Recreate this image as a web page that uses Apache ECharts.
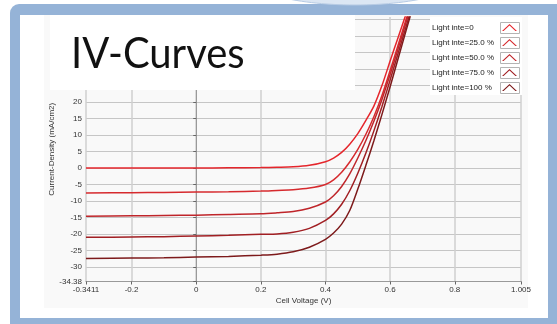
<!DOCTYPE html>
<html lang="en">
<head>
    <meta charset="UTF-8">
    <title>IV-Curves</title>
    <style type="text/css">
        * {
            margin: 0;
            padding: 0;
        }

        html, body {
            width: 100%;
            height: 100%;
            background: #fff;
        }

        #main {
            width: 557px;
            height: 324px;
        }
    </style>
</head>
<body>
<div id="main"></div>
<script src="https://cdn.jsdelivr.net/npm/echarts@6/dist/echarts.min.js"></script>
<script>

    var myChart = echarts.init(document.getElementById('main'));

    const seriesNames = ['Light inte=0', 'Light inte=25.0 %', 'Light inte=50.0 %', 'Light inte=75.0 %', 'Light inte=100 %'];
    const colorList = ['#e5262c', '#d62a2e', '#bf252a', '#a11f23', '#7d1a1b'];

    // cell voltage (V)
    const voltage = [-0.3411, -0.2, -0.1, 0, 0.1, 0.2, 0.25, 0.3, 0.35, 0.4, 0.425, 0.45, 0.475, 0.5, 0.525, 0.55, 0.575, 0.6, 0.625, 0.65, 0.675];

    // current density (mA/cm2), one list per light intensity
    const light0 = [0, 0, 0, 0, 0.05, 0.1, 0.2, 0.35, 0.8, 1.9, 3.0, 4.7, 7.2, 10.4, 14.4, 18.8, 25.0, 32.4, 39.6, 46.8, 54.0];
    const light25 = [-7.6, -7.5, -7.4, -7.3, -7.2, -7.0, -6.8, -6.6, -6.1, -5.0, -3.6, -1.3, 1.8, 5.6, 10.2, 15.6, 22.0, 29.5, 37.3, 45.2, 53.2];
    const light50 = [-14.6, -14.5, -14.4, -14.3, -14.1, -13.9, -13.6, -13.2, -12.2, -10.3, -8.4, -5.6, -1.8, 3.0, 8.3, 14.2, 20.8, 28.3, 36.2, 44.3, 52.5];
    const light75 = [-21.0, -20.9, -20.8, -20.6, -20.4, -20.1, -20.0, -19.5, -18.3, -15.9, -13.9, -11.0, -6.9, -1.6, 4.5, 11.3, 18.7, 26.6, 34.8, 43.0, 51.3];
    const light100 = [-27.4, -27.3, -27.2, -27.0, -26.8, -26.4, -26.1, -25.4, -24.0, -21.6, -19.7, -17.0, -12.9, -6.4, 0.8, 8.3, 16.3, 24.6, 33.2, 41.8, 50.3];

    const xTicks = [-0.3411, -0.2, 0, 0.2, 0.4, 0.6, 0.8, 1.005];
    const yTicks = [-34.38, -30, -25, -20, -15, -10, -5, 0, 5, 10, 15, 20, 25, 30, 35, 40, 45];
    const yLabels = [-34.38, -30, -25, -20, -15, -10, -5, 0, 5, 10, 15, 20];

    const curves = [light0, light25, light50, light75, light100];

    var series = curves.map(function (list, i) {
        return {
            name: seriesNames[i],
            type: 'line',
            showSymbol: false,
            smooth: 0.3,
            color: colorList[i],
            lineStyle: {width: 1.5, color: colorList[i]},
            data: voltage.map(function (v, k) {
                return [v, list[k]];
            })
        };
    });

    var legendBoxes = seriesNames.map(function (n, i) {
        return {
            type: 'rect',
            z: 20,
            shape: {x: 500.5, y: 22.5 + i * 15, width: 19, height: 11},
            style: {fill: 'none', stroke: '#b4b4b4', lineWidth: 1}
        };
    });

    option = {
        animation: false,
        backgroundColor: '#fff',
        grid: {
            left: 86,
            right: 36,
            top: 17,
            bottom: 42.5,
            outerBoundsMode: 'none'
        },
        legend: {
            orient: 'vertical',
            left: 432,
            top: 22,
            align: 'right',
            padding: 0,
            itemGap: 4,
            itemWidth: 15,
            itemHeight: 7,
            icon: 'path://M0,7 L7.5,0 L15,7 L13.4,7 L7.5,1.5 L1.6,7 Z',
            formatter: '{t|{name}}',
            textStyle: {
                fontFamily: 'Liberation Sans',
                fontSize: 8,
                color: '#222',
                rich: {
                    t: {
                        width: 65,
                        height: 11,
                        align: 'left',
                        fontFamily: 'Liberation Sans',
                        fontSize: 8,
                        color: '#222',
                        lineHeight: 11
                    }
                }
            },
            data: seriesNames
        },
        xAxis: {
            type: 'value',
            min: -0.3411,
            max: 1.005,
            name: 'Cell Voltage (V)',
            nameLocation: 'middle',
            nameGap: 15,
            nameMoveOverlap: false,
            nameTextStyle: {fontFamily: 'Liberation Sans', fontSize: 8, color: '#333'},
            axisLine: {show: true, onZero: false, lineStyle: {color: '#9a9a9a'}},
            axisTick: {show: true, length: 3, customValues: xTicks, lineStyle: {color: '#666'}},
            axisLabel: {
                customValues: xTicks,
                margin: 4,
                fontFamily: 'Liberation Sans',
                fontSize: 8,
                color: '#333',
                formatter: function (v) {
                    return String(v);
                }
            },
            splitLine: {show: true, lineStyle: {color: '#cfcfcf', width: 1.5}}
        },
        yAxis: {
            type: 'value',
            min: -34.38,
            max: 45.7,
            name: 'Current-Density (mA/cm2)',
            nameLocation: 'middle',
            nameGap: 30,
            nameMoveOverlap: false,
            nameTextStyle: {fontFamily: 'Liberation Sans', fontSize: 8, color: '#333'},
            axisLine: {show: true, lineStyle: {color: '#9a9a9a'}},
            axisTick: {show: true, length: 3, customValues: yTicks, lineStyle: {color: '#666'}},
            axisLabel: {
                customValues: yLabels,
                margin: 4,
                fontFamily: 'Liberation Sans',
                fontSize: 8,
                color: '#333',
                formatter: function (v) {
                    return String(v);
                }
            },
            splitLine: {show: true, lineStyle: {color: '#c6c6c6', width: 1}}
        },
        graphic: [
            {
                type: 'rect', z: -20, silent: true,
                shape: {x: 10, y: 4, width: 560, height: 340, r: 9},
                style: {fill: '#95b3d7'}
            },
            {
                type: 'ellipse', z: -19, silent: true,
                shape: {cx: 355, cy: -26, rx: 112, ry: 31},
                style: {fill: '#dbe6f3', stroke: '#b7cbe4', lineWidth: 1}
            },
            {
                type: 'rect', z: -18, silent: true,
                shape: {x: 20, y: 15, width: 528, height: 303},
                style: {fill: '#ffffff'}
            },
            {
                type: 'rect', z: -17, silent: true,
                shape: {x: 44, y: 15, width: 484, height: 293},
                style: {fill: '#f9f9f9'}
            },
            {
                type: 'rect', z: 10, silent: true,
                shape: {x: 50, y: 15, width: 305, height: 75},
                style: {fill: '#ffffff'}
            },
            {
                type: 'text', z: 11, silent: true,
                x: 71, y: 76, scaleY: 1.08,
                style: {
                    text: 'IV-Curves',
                    fontFamily: 'Lato',
                    fontSize: 40,
                    fill: '#111',
                    verticalAlign: 'bottom'
                }
            },
            {
                type: 'rect', z: 3, silent: true,
                shape: {x: 430, y: 17, width: 92, height: 78},
                style: {fill: '#ffffff'}
            }
        ].concat(legendBoxes),
        series: series
    };

    myChart.setOption(option);
    window.onresize = () => {
        myChart.resize();
    }
</script>
</body>
</html>
